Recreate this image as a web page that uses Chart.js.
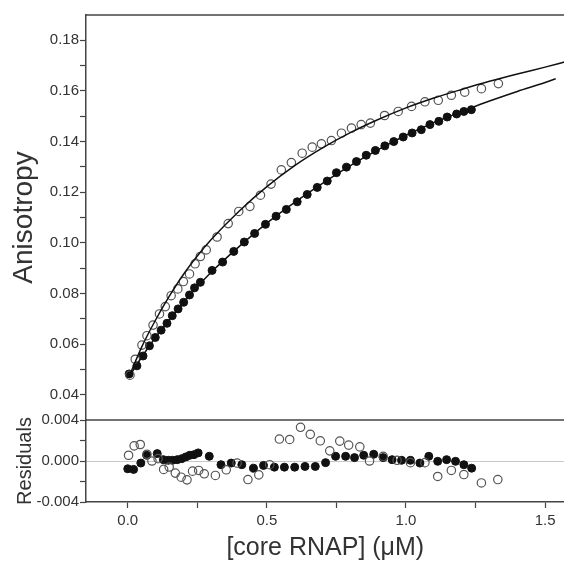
<!DOCTYPE html>
<html>
<head>
<meta charset="utf-8">
<script src="https://cdn.jsdelivr.net/npm/chart.js@4.4.1/dist/chart.umd.min.js"></script>
<style>
  body { margin: 0; background: #fff; overflow: hidden; }
  #wrap { width: 564px; height: 566px; overflow: hidden; }
</style>
</head>
<body>
<div id="wrap"><canvas id="chart" width="570" height="566"></canvas></div>
<script>
// open circles (top panel)
var openX = [0.008, 0.027, 0.051, 0.069, 0.091, 0.114, 0.135, 0.156, 0.180, 0.200, 0.222, 0.242, 0.261, 0.282, 0.321, 0.361, 0.399, 0.439, 0.477, 0.515, 0.552, 0.588, 0.627, 0.663, 0.696, 0.732, 0.768, 0.804, 0.839, 0.872, 0.923, 0.972, 1.020, 1.068, 1.116, 1.163, 1.211, 1.271, 1.332];
var openY = [0.0477, 0.054, 0.0596, 0.0633, 0.0675, 0.0719, 0.0748, 0.0791, 0.0818, 0.0847, 0.0877, 0.0917, 0.0946, 0.0972, 0.1023, 0.1076, 0.1124, 0.1144, 0.1188, 0.1232, 0.1288, 0.1317, 0.1354, 0.1378, 0.1391, 0.1404, 0.1433, 0.1453, 0.1467, 0.1473, 0.1503, 0.1519, 0.1539, 0.1557, 0.1563, 0.1583, 0.1595, 0.1609, 0.1629];

// filled circles (top panel)
var filledX = [0.005, 0.033, 0.055, 0.078, 0.099, 0.120, 0.141, 0.160, 0.181, 0.201, 0.222, 0.240, 0.261, 0.303, 0.341, 0.381, 0.419, 0.456, 0.495, 0.533, 0.570, 0.609, 0.645, 0.681, 0.717, 0.750, 0.786, 0.822, 0.857, 0.890, 0.924, 0.956, 0.990, 1.022, 1.055, 1.086, 1.118, 1.148, 1.182, 1.208, 1.235];
var filledY = [0.0482, 0.0514, 0.0553, 0.0593, 0.0626, 0.0655, 0.0682, 0.0712, 0.0739, 0.0765, 0.0794, 0.0822, 0.0844, 0.0891, 0.0924, 0.0966, 0.1003, 0.1037, 0.1073, 0.1105, 0.1132, 0.1162, 0.1191, 0.1219, 0.1244, 0.1277, 0.1299, 0.1321, 0.1346, 0.1365, 0.1383, 0.1400, 0.1418, 0.1434, 0.1447, 0.1467, 0.1480, 0.1497, 0.1509, 0.1519, 0.1526];

// fit curves
var fitOpenX = [0.005, 0.05, 0.1, 0.15, 0.2, 0.25, 0.3, 0.4, 0.5, 0.6, 0.7, 0.8, 0.9, 1.0, 1.1, 1.2, 1.3, 1.4, 1.5, 1.57];
var fitOpenY = [0.0472, 0.0588, 0.0695, 0.079, 0.0875, 0.0948, 0.1013, 0.1125, 0.1222, 0.1305, 0.1375, 0.1435, 0.1487, 0.1533, 0.1572, 0.1606, 0.1638, 0.1667, 0.1694, 0.1714];
var fitFilledX = [0.005, 0.05, 0.1, 0.15, 0.2, 0.25, 0.3, 0.4, 0.5, 0.6, 0.7, 0.8, 0.9, 1.0, 1.1, 1.2, 1.3, 1.4, 1.5, 1.538];
var fitFilledY = [0.0472, 0.0548, 0.0627, 0.0697, 0.0763, 0.0826, 0.0884, 0.0985, 0.1078, 0.116, 0.1235, 0.1305, 0.1368, 0.1425, 0.1475, 0.1518, 0.156, 0.1598, 0.1633, 0.1648];

// residuals
var resOpenX = [0.003, 0.023, 0.045, 0.069, 0.087, 0.109, 0.129, 0.149, 0.171, 0.192, 0.213, 0.233, 0.255, 0.275, 0.315, 0.354, 0.393, 0.432, 0.471, 0.510, 0.545, 0.582, 0.621, 0.656, 0.692, 0.726, 0.762, 0.794, 0.834, 0.869, 0.918, 0.968, 1.016, 1.068, 1.114, 1.163, 1.208, 1.271, 1.330];
var resOpenY = [0.00056, 0.00148, 0.00161, 0.00066, 0.0, 0.00023, -0.00082, -0.00059, -0.00118, -0.00158, -0.00184, -0.00099, -0.00092, -0.00125, -0.00141, -0.00086, -0.0002, -0.00181, -0.00135, -0.00036, 0.00214, 0.0021, 0.00329, 0.0026, 0.00197, 0.00099, 0.00194, 0.00155, 0.00138, 0.0, 0.00046, 0.00007, -0.00016, -0.00016, -0.00151, -0.00092, -0.00132, -0.00214, -0.00181];
var resFilledX = [0.0, 0.021, 0.047, 0.068, 0.106, 0.128, 0.146, 0.161, 0.178, 0.194, 0.209, 0.223, 0.238, 0.253, 0.293, 0.335, 0.372, 0.41, 0.452, 0.488, 0.527, 0.563, 0.6, 0.637, 0.674, 0.711, 0.747, 0.783, 0.815, 0.848, 0.884, 0.918, 0.950, 0.984, 1.016, 1.050, 1.082, 1.114, 1.146, 1.178, 1.208, 1.236];
var resFilledY = [-0.00076, -0.00082, -0.0002, 0.00056, 0.00072, 0.00013, 0.00007, 0.00007, 0.00013, 0.00023, 0.0004, 0.00056, 0.00062, 0.00079, 0.00046, -0.00036, -0.0002, -0.00036, -0.0007, -0.00043, -0.0006, -0.0006, -0.0006, -0.00053, -0.00053, -0.00016, 0.00046, 0.00046, 0.00033, 0.00056, 0.00066, 0.00033, 0.00013, 0.00007, 0.00007, -0.0002, 0.00046, -0.00003, 0.00013, -0.00003, -0.00036, -0.0007];

function pts(xs, ys) {
    return xs.map(function(x, i) { return {x: x, y: ys[i]}; });
}

var axisColor = '#444';
var textColor = '#333';
var fontFam = 'Arial, "Liberation Sans", sans-serif';

// top border + separator between the two panels
var framePlugin = {
    id: 'frame',
    afterDraw: function(chart) {
        var ctx = chart.ctx;
        var area = chart.chartArea;
        ctx.save();
        ctx.strokeStyle = axisColor;
        ctx.lineWidth = 1.5;
        ctx.beginPath();
        ctx.moveTo(area.left, area.top);
        ctx.lineTo(area.right, area.top);
        ctx.moveTo(area.left, chart.scales.yRes.top);
        ctx.lineTo(area.right, chart.scales.yRes.top);
        ctx.stroke();
        ctx.restore();
    }
};

var openStyle = {
    pointRadius: 4.2, pointBackgroundColor: 'rgba(0,0,0,0)',
    pointBorderColor: '#555', pointBorderWidth: 1.2, showLine: false, order: 1
};
var filledStyle = {
    pointRadius: 4, pointBackgroundColor: '#111',
    pointBorderColor: '#111', pointBorderWidth: 1, showLine: false, order: 1
};

var chart = new Chart(document.getElementById('chart'), {
    type: 'scatter',
    data: {
        datasets: [
            Object.assign({label: 'open', data: pts(openX, openY), yAxisID: 'y'}, openStyle),
            Object.assign({label: 'filled', data: pts(filledX, filledY), yAxisID: 'y'}, filledStyle),
            {label: 'fit open', data: pts(fitOpenX, fitOpenY), yAxisID: 'y', showLine: true,
             pointRadius: 0, borderColor: '#111', borderWidth: 1.5, cubicInterpolationMode: 'monotone', order: 0},
            {label: 'fit filled', data: pts(fitFilledX, fitFilledY), yAxisID: 'y', showLine: true,
             pointRadius: 0, borderColor: '#111', borderWidth: 1.5, cubicInterpolationMode: 'monotone', order: 0},
            Object.assign({label: 'res open', data: pts(resOpenX, resOpenY), yAxisID: 'yRes'}, openStyle),
            Object.assign({label: 'res filled', data: pts(resFilledX, resFilledY), yAxisID: 'yRes'}, filledStyle)
        ]
    },
    options: {
        responsive: false,
        animation: false,
        layout: {padding: {top: 15, right: 0, bottom: 0, left: 0}},
        plugins: {legend: {display: false}, tooltip: {enabled: false}},
        scales: {
            x: {
                type: 'linear', position: 'bottom',
                min: -0.15, max: 1.57,
                border: {display: true, color: axisColor, width: 1.5},
                grid: {drawOnChartArea: false, drawTicks: true, tickLength: 6, tickColor: axisColor, tickWidth: 1.2},
                ticks: {
                    stepSize: 0.25, includeBounds: false, padding: 4, maxRotation: 0, autoSkip: false,
                    color: textColor, font: {family: fontFam, size: 15},
                    callback: function(v) {
                        var q = Math.round(v * 4);
                        return q % 2 === 0 ? v.toFixed(1) : '';
                    }
                },
                title: {display: true, text: '[core RNAP] (\u03bcM)', color: textColor,
                        font: {family: fontFam, size: 25}, padding: {top: 0, bottom: 3}},
                afterFit: function(s) { s.height = 64; }
            },
            yRes: {
                type: 'linear', position: 'left', stack: 'panels', stackWeight: 82, weight: 0,
                min: -0.004, max: 0.004,
                border: {display: true, color: axisColor, width: 1.5},
                grid: {
                    drawOnChartArea: true, drawTicks: true, tickLength: 6, tickWidth: 1.2,
                    tickColor: axisColor, borderDash: [2, 2], lineWidth: 1,
                    color: function(c) { return c.tick && Math.abs(c.tick.value) < 1e-9 ? '#c8c8c8' : 'rgba(0,0,0,0)'; }
                },
                ticks: {
                    stepSize: 0.002, includeBounds: false, padding: 1, autoSkip: false,
                    color: textColor, font: {family: fontFam, size: 15},
                    callback: function(v) {
                        var q = Math.round(v * 500);
                        return q % 2 === 0 ? (Math.abs(v) < 1e-9 ? '0.000' : v.toFixed(3)) : '';
                    }
                },
                title: {display: true, text: 'Residuals', color: textColor,
                        font: {family: fontFam, size: 20}, padding: {top: 13, bottom: 0}},
                afterFit: function(s) { s.width = 86; }
            },
            y: {
                type: 'linear', position: 'left', stack: 'panels', stackWeight: 405, weight: 1,
                min: 0.03, max: 0.19,
                border: {display: true, color: axisColor, width: 1.5},
                grid: {
                    drawOnChartArea: false, drawTicks: true, tickLength: 6, tickWidth: 1.2,
                    tickColor: function(c) {
                        var q = c.tick ? Math.round(c.tick.value * 100) : 0;
                        return (q === 19 || q === 3) ? 'rgba(0,0,0,0)' : axisColor;
                    }
                },
                ticks: {
                    stepSize: 0.01, includeBounds: false, padding: 1, autoSkip: false,
                    color: textColor, font: {family: fontFam, size: 15},
                    callback: function(v) {
                        var q = Math.round(v * 100);
                        return (q % 2 === 0 && q >= 4 && q <= 18) ? v.toFixed(2) : '';
                    }
                },
                title: {display: true, text: 'Anisotropy', color: textColor,
                        font: {family: fontFam, size: 28}, padding: {top: 7, bottom: 0}},
                afterFit: function(s) { s.width = 86; }
            }
        }
    },
    plugins: [framePlugin]
});
</script>
</body>
</html>
